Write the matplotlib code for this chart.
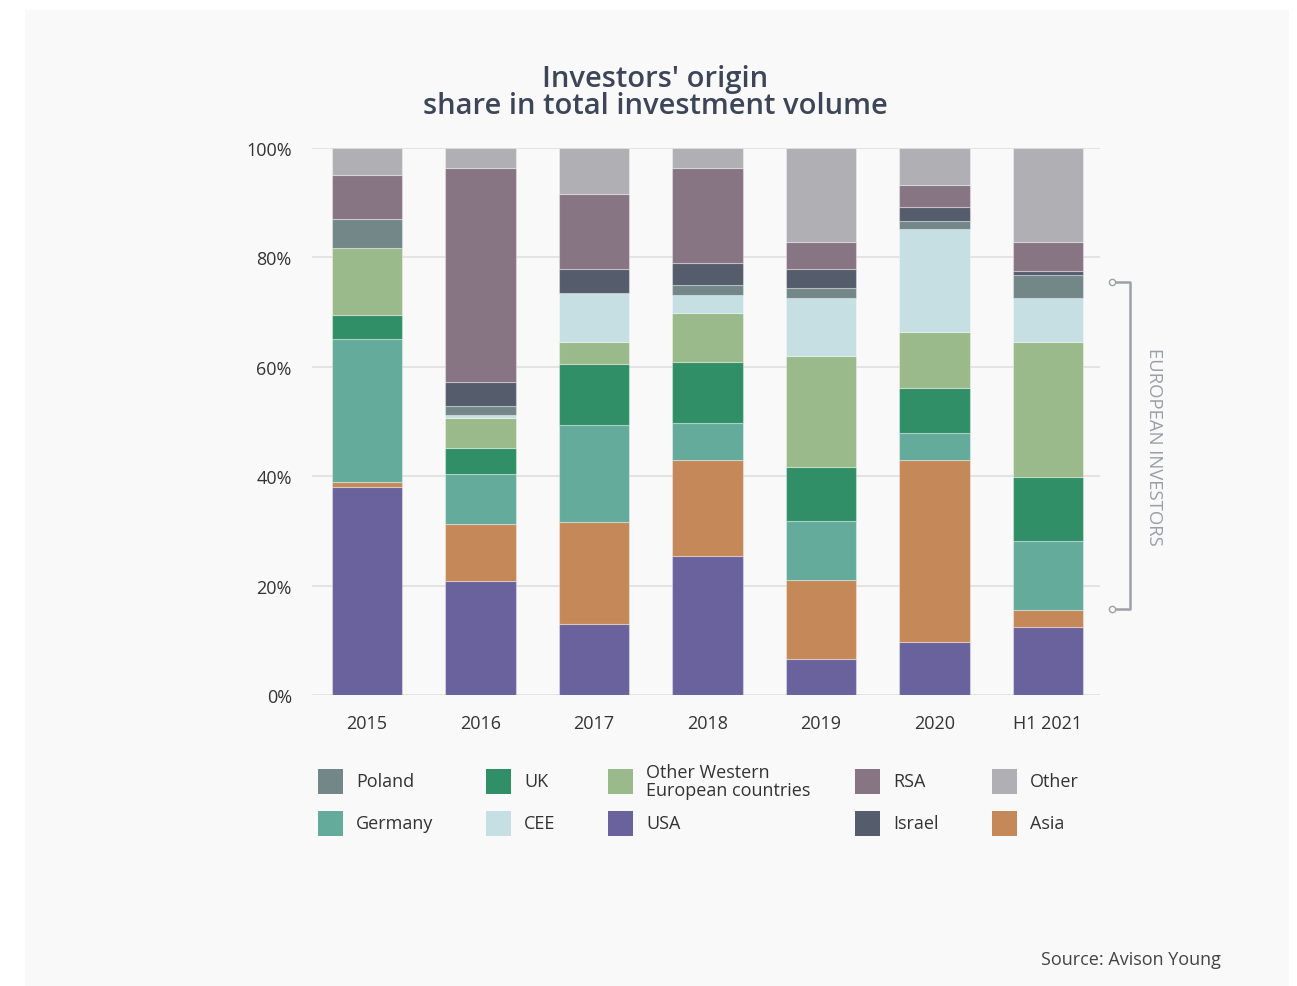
import numpy as np
import matplotlib.pyplot as plt
from matplotlib.patches import Rectangle
import matplotlib.transforms as mtransforms

# ── Data (share in %, stacked bottom → top) ────────────────────────────────────

YEARS = ["2015", "2016", "2017", "2018", "2019", "2020", "H1 2021"]

USA        = [38.1, 20.9, 12.9, 25.5,  6.6,  9.7, 12.4]
ASIA       = [ 0.8, 10.4, 18.8, 17.5, 14.4, 33.3,  3.2]
GERMANY    = [26.2,  9.1, 17.7,  6.7, 10.8,  4.9, 12.6]
UK         = [ 4.4,  4.8, 11.1, 11.2,  9.8,  8.2, 11.6]
OTHER_WEST = [12.2,  5.4,  4.0,  9.0, 20.3, 10.3, 24.7]
CEE        = [ 0.0,  0.6,  9.0,  3.2, 10.7, 18.8,  8.1]
POLAND     = [ 5.3,  1.7,  0.0,  1.9,  1.8,  1.5,  4.2]
ISRAEL     = [ 0.0,  4.4,  4.4,  3.9,  3.5,  2.6,  0.8]
RSA        = [ 8.1, 39.0, 13.6, 17.4,  5.0,  4.0,  5.3]
OTHER      = [ 4.9,  3.7,  8.5,  3.7, 17.1,  6.7, 17.1]

Y_TICKS = [0, 20, 40, 60, 80, 100]

# bracket span marking the European investors (in % of the y axis)
EUROPE_SPAN = [15.7, 75.5]

# ── Styling ────────────────────────────────────────────────────────────────────

SERIES = [
    ("USA", USA, "#6a629d"),
    ("Asia", ASIA, "#c58859"),
    ("Germany", GERMANY, "#64ab9c"),
    ("UK", UK, "#318f67"),
    ("Other Western\nEuropean countries", OTHER_WEST, "#9aba8b"),
    ("CEE", CEE, "#c5dfe3"),
    ("Poland", POLAND, "#738789"),
    ("Israel", ISRAEL, "#555d6d"),
    ("RSA", RSA, "#877583"),
    ("Other", OTHER, "#b0afb4"),
]

# legend grid: columns × rows, names as they appear
LEGEND_GRID = [
    ["Poland", "Germany"],
    ["UK", "CEE"],
    ["Other Western\nEuropean countries", "USA"],
    ["RSA", "Israel"],
    ["Other", "Asia"],
]

plt.rcParams["font.family"] = ["Open Sans", "DejaVu Sans"]

W, H = 1297, 987
fig = plt.figure(figsize=(W / 100, H / 100), dpi=100)
fig.patch.set_facecolor("white")

# light grey panel behind everything
fig.add_artist(Rectangle((25 / W, 0), (1289 - 25) / W, (H - 11) / H,
                         transform=fig.transFigure, facecolor="#f9f9f9",
                         edgecolor="none", zorder=-10))

ax = fig.add_axes([312 / W, (H - 696) / H, (1100 - 312) / W, (696 - 149) / H])
ax.set_facecolor("none")

x = np.arange(len(YEARS))
bottom = np.zeros(len(YEARS))
colors = {}
for name, vals, col in SERIES:
    vals = np.array(vals)
    ax.bar(x, vals, bottom=bottom, width=0.62, color=col,
           edgecolor=(1, 1, 1, 0.35), linewidth=0.8, zorder=3)
    bottom += vals
    colors[name] = col

ax.set_xlim(-0.485, 6.46)
ax.set_ylim(0, 100)
ax.set_yticks(Y_TICKS)
ax.set_yticklabels([f"{t}%" for t in Y_TICKS])
ax.set_xticks(x)
ax.set_xticklabels(YEARS)
ax.grid(axis="y", color="#e3e3e3", linewidth=1.4, zorder=0)
ax.tick_params(length=0, labelsize=13, colors="#333333")
ax.tick_params(axis="y", pad=14.5)
ax.tick_params(axis="x", pad=14)
for spine in ax.spines.values():
    spine.set_visible(False)

# ── European investors bracket ────────────────────────────────────────────────
trans = mtransforms.blended_transform_factory(ax.transAxes, ax.transData)
bx0, bx1 = 1.0155, 1.0385
lo, hi = EUROPE_SPAN
ax.plot([bx0, bx1, bx1, bx0], [hi, hi, lo, lo], transform=trans,
        color="#9da1a8", linewidth=1.8, clip_on=False, zorder=4)
ax.plot([bx0, bx0], [hi, lo], transform=trans, linestyle="none",
        marker="o", markersize=4.5, markerfacecolor="#f9f9f9",
        markeredgecolor="#9da1a8", markeredgewidth=1, clip_on=False, zorder=5)
ax.text(1.068, (lo + hi) / 2, "EUROPEAN INVESTORS", transform=trans,
        rotation=-90, ha="center", va="center", fontsize=13.3,
        color="#9a9ea6")

# ── Title ──────────────────────────────────────────────────────────────────────
fig.text(655 / W, 1 - 79 / H, "Investors' origin", ha="center", va="center",
         fontsize=21, fontweight="semibold", color="#3d4659")
fig.text(655 / W, 1 - 106 / H, "share in total investment volume",
         ha="center", va="center", fontsize=21, fontweight="semibold",
         color="#3d4659")

# ── Legend (drawn manually so rows line up) ───────────────────────────────────
col_x = [318, 486, 608, 855, 992]
row_y = [782, 824]
for cx, names in zip(col_x, LEGEND_GRID):
    for ry, name in zip(row_y, names):
        fig.add_artist(Rectangle((cx / W, 1 - (ry + 12.5) / H), 25 / W, 25 / H,
                                 transform=fig.transFigure,
                                 facecolor=colors[name], edgecolor="none"))
        fig.text((cx + 38) / W, 1 - ry / H, name, ha="left", va="center",
                 fontsize=13, color="#333333", linespacing=0.95)

fig.text(1221 / W, 1 - 960 / H, "Source: Avison Young", ha="right",
         va="center", fontsize=13, color="#444444")

fig.savefig("out.png", dpi=100)
